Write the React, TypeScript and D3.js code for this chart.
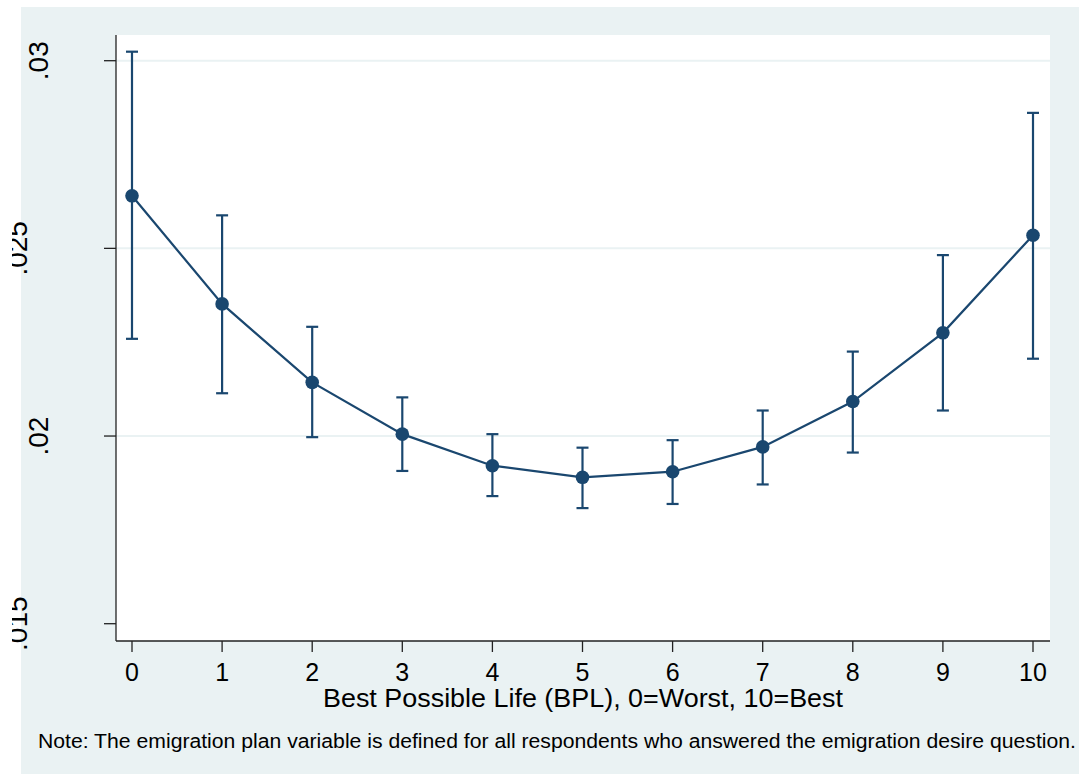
import React, { useEffect, useRef } from "react";
import * as d3 from "d3";

// best possible life score, 0..10
const bplLevels = [0, 1, 2, 3, 4, 5, 6, 7, 8, 9, 10];
// predicted share with emigration plan, and 95% CI
const meanPlan = [0.0264, 0.02352, 0.02143, 0.02005, 0.01921, 0.0189, 0.01905, 0.01971, 0.02092, 0.02275, 0.02535];
const ciUpper = [0.03024, 0.02588, 0.02291, 0.02103, 0.02005, 0.01969, 0.01989, 0.02068, 0.02225, 0.02482, 0.02861];
const ciLower = [0.02259, 0.02114, 0.01997, 0.01907, 0.0184, 0.01808, 0.01819, 0.01871, 0.01956, 0.02068, 0.02206];

const yTicks = [0.015, 0.02, 0.025, 0.03];
const yTickLabels = [".015", ".02", ".025", ".03"];
const gridTicks = [0.02, 0.025, 0.03];

const xTitle = "Best Possible Life (BPL), 0=Worst, 10=Best";
const note = "Note: The emigration plan variable is defined for all respondents who answered the emigration desire question.";

const W = 1079;
const H = 774;
const navy = "#1a476f";
const bg = "#eaf2f3";
const font = "'Liberation Sans', Arial, sans-serif";

const App = () => {
  const svgRef = useRef<SVGSVGElement>(null);

  useEffect(() => {
    document.body.style.margin = "0";
    const svg = d3.select(svgRef.current);
    svg.selectAll("*").remove();

    const plot = { left: 116, right: 1050, top: 35, bottom: 641 };
    const x = d3.scaleLinear().domain([0, 10]).range([132, 1033]);
    const y = d3.scaleLinear().domain([0.015, 0.03]).range([623.7, 60.7]);

    svg.append("defs").append("clipPath").attr("id", "ylab-clip")
      .attr("clipPathUnits", "userSpaceOnUse")
      .append("rect").attr("x", 12).attr("y", 0).attr("width", W).attr("height", H);

    // graph region background
    svg.append("rect").attr("x", 21).attr("y", 7).attr("width", W - 21).attr("height", H - 7).attr("fill", bg);
    // plot region
    svg.append("rect")
      .attr("x", plot.left).attr("y", plot.top)
      .attr("width", plot.right - plot.left).attr("height", plot.bottom - plot.top)
      .attr("fill", "#fff");

    // gridlines
    svg.selectAll(".grid").data(gridTicks).enter().append("line")
      .attr("x1", plot.left).attr("x2", plot.right)
      .attr("y1", (d) => y(d)).attr("y2", (d) => y(d))
      .attr("stroke", bg).attr("stroke-width", 2);

    // axes
    svg.append("line").attr("x1", plot.left).attr("x2", plot.left).attr("y1", plot.top).attr("y2", plot.bottom)
      .attr("stroke", "#222").attr("stroke-width", 1.3);
    svg.append("line").attr("x1", plot.left).attr("x2", plot.right).attr("y1", plot.bottom).attr("y2", plot.bottom)
      .attr("stroke", "#222").attr("stroke-width", 1.3);

    yTicks.forEach((t, i) => {
      svg.append("line").attr("x1", 104).attr("x2", plot.left).attr("y1", y(t)).attr("y2", y(t))
        .attr("stroke", "#222").attr("stroke-width", 1.3);
      // alternate labels sit further left and get cut off, as in the original export
      const shifted = i % 2 === 0;
      const bx = shifted ? 26.7 : 48.3;
      const lg = svg.append("g").attr("clip-path", shifted ? "url(#ylab-clip)" : null);
      lg.append("text")
        .attr("transform", `translate(${bx},${y(t)}) rotate(-90)`)
        .attr("text-anchor", "middle")
        .style("font-family", font).style("font-size", "28px").style("fill", "#000")
        .text(yTickLabels[i]);
    });

    bplLevels.forEach((b) => {
      svg.append("line").attr("x1", x(b)).attr("x2", x(b)).attr("y1", plot.bottom).attr("y2", 652)
        .attr("stroke", "#222").attr("stroke-width", 1.3);
      svg.append("text").attr("x", x(b)).attr("y", 681).attr("text-anchor", "middle")
        .style("font-family", font).style("font-size", "25px").style("fill", "#000")
        .text(b);
    });

    svg.append("text").attr("x", (plot.left + plot.right) / 2).attr("y", 707).attr("text-anchor", "middle")
      .attr("textLength", 520).attr("lengthAdjust", "spacingAndGlyphs")
      .style("font-family", font).style("font-size", "25px").style("fill", "#000")
      .text(xTitle);

    svg.append("text").attr("x", 38).attr("y", 748)
      .attr("textLength", 1038).attr("lengthAdjust", "spacingAndGlyphs")
      .style("font-family", font).style("font-size", "20px").style("fill", "#000")
      .text(note);

    // error bars
    const capHalf = 6;
    bplLevels.forEach((b, i) => {
      const g = svg.append("g").attr("stroke", navy).attr("stroke-width", 2.2);
      g.append("line").attr("x1", x(b)).attr("x2", x(b)).attr("y1", y(ciUpper[i])).attr("y2", y(ciLower[i]));
      g.append("line").attr("x1", x(b) - capHalf).attr("x2", x(b) + capHalf).attr("y1", y(ciUpper[i])).attr("y2", y(ciUpper[i]));
      g.append("line").attr("x1", x(b) - capHalf).attr("x2", x(b) + capHalf).attr("y1", y(ciLower[i])).attr("y2", y(ciLower[i]));
    });

    // connected line
    const line = d3.line<number>().x((d, i) => x(bplLevels[i])).y((d) => y(d));
    svg.append("path").datum(meanPlan).attr("d", line)
      .attr("fill", "none").attr("stroke", navy).attr("stroke-width", 2.2);

    svg.selectAll(".pt").data(meanPlan).enter().append("circle")
      .attr("cx", (d, i) => x(bplLevels[i])).attr("cy", (d) => y(d)).attr("r", 6.8)
      .attr("fill", navy);
  }, []);

  return (
    <svg ref={svgRef} width={W} height={H} style={{ display: "block", background: "#fff" }}></svg>
  );
};

export default App;
